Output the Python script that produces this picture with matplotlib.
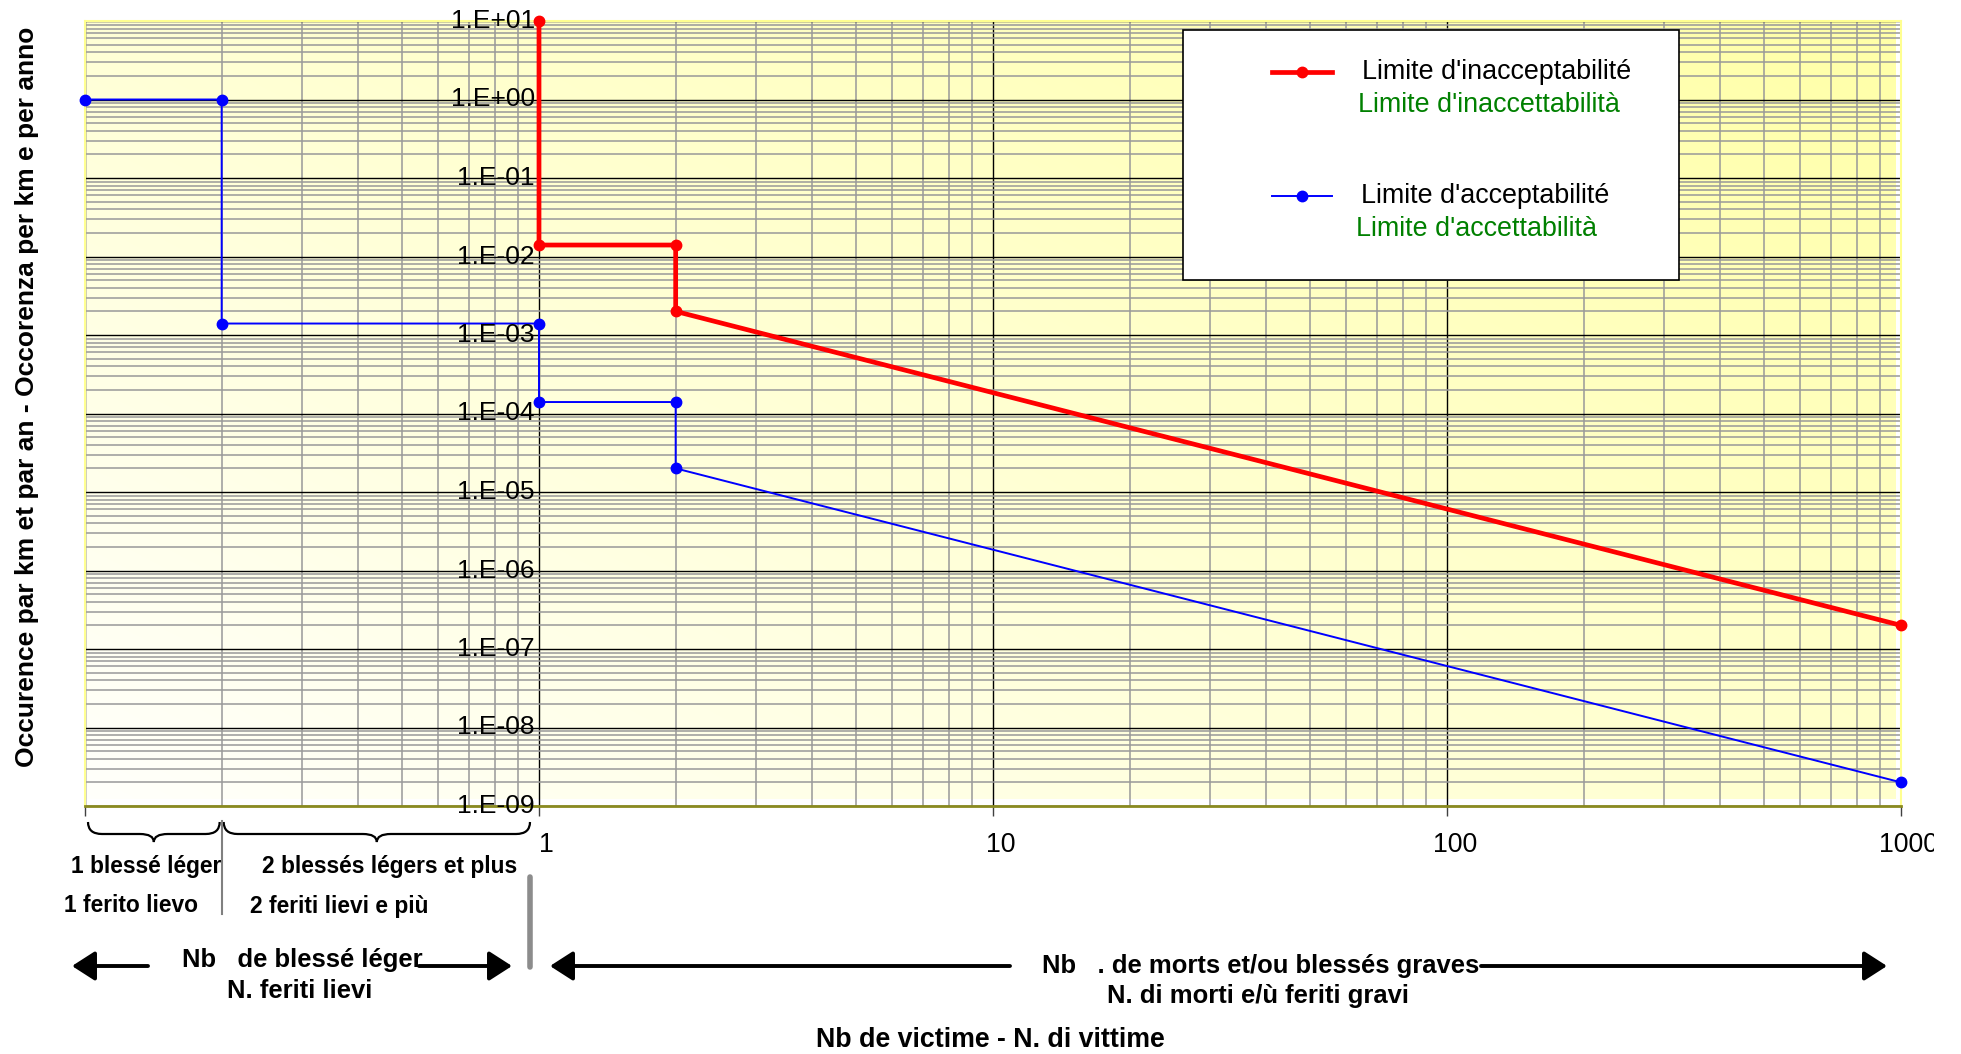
import numpy as np
import matplotlib
matplotlib.use("Agg")
import matplotlib.pyplot as plt
from matplotlib import font_manager
from matplotlib.patches import Rectangle, FancyArrowPatch, PathPatch
from matplotlib.path import Path
from matplotlib.lines import Line2D
from matplotlib.transforms import Affine2D
from matplotlib.ticker import LogLocator, NullFormatter

# data
inacc_x = [1, 1, 2, 2, 1000]
inacc_y = [10, 1.4e-2, 1.4e-2, 2e-3, 2e-7]
acc_x = [0.1, 0.2, 0.2, 1, 1, 2, 2, 1000]
acc_y = [1, 1, 1.4e-3, 1.4e-3, 1.4e-4, 1.4e-4, 2e-5, 2e-9]
x_ticks = [1, 10, 100, 1000]
x_tick_labels = ["1", "10", "100", "1000"]
y_ticks = [1e1, 1e0, 1e-1, 1e-2, 1e-3, 1e-4, 1e-5, 1e-6, 1e-7, 1e-8, 1e-9]
y_tick_labels = ["1.E+01", "1.E+00", "1.E-01", "1.E-02", "1.E-03", "1.E-04",
                 "1.E-05", "1.E-06", "1.E-07", "1.E-08", "1.E-09"]

# fonts
avail = {f.name for f in font_manager.fontManager.ttflist}
REG = "Liberation Sans"
if "Liberation Sans Narrow" in avail:
    NARROW, k = "Liberation Sans Narrow", 1.0
else:
    NARROW, k = "Liberation Sans", 0.82
plt.rcParams["font.family"] = [REG, "DejaVu Sans"]

W, H = 1961, 1054
fig = plt.figure(figsize=(W / 100, H / 100), dpi=100)
# reference-pixel transform (origin top-left)
T = Affine2D().scale(1 / W, -1 / H).translate(0, 1) + fig.transFigure

L, R, TOP, BOT = 85, 1901, 21, 806
# gradient background in its own axes behind
bg = fig.add_axes([L / W, 1 - (BOT - 7) / H, (R - 5 - L) / W, (BOT - 7 - TOP) / H], zorder=0)
gx, gy = np.meshgrid(np.linspace(0, 1, 300), np.linspace(0, 1, 300))
t = np.clip(0.55 * gx + 0.45 * gy, 0, 1)
img = np.dstack([np.ones_like(t), np.ones_like(t), 0.985 - 0.33 * t])
bg.imshow(img, origin="lower", aspect="auto", extent=[0, 1, 0, 1], interpolation="bilinear")
bg.axis("off")

ax = fig.add_axes([L / W, 1 - BOT / H, (R - L) / W, (BOT - TOP) / H], zorder=1)
ax.patch.set_alpha(0)
ax.set_xscale("log")
ax.set_yscale("log")
ax.set_xlim(0.1, 1000)
ax.set_ylim(1e-9, 1e1)

ax.xaxis.set_major_locator(LogLocator(base=10, numticks=20))
ax.xaxis.set_minor_locator(LogLocator(base=10, subs=range(2, 10), numticks=20))
ax.yaxis.set_major_locator(LogLocator(base=10, numticks=20))
ax.yaxis.set_minor_locator(LogLocator(base=10, subs=range(2, 10), numticks=20))
ax.xaxis.set_minor_formatter(NullFormatter())
ax.yaxis.set_minor_formatter(NullFormatter())
ax.grid(which="minor", color="#999999", lw=1.1)
ax.grid(which="major", color="black", lw=1.0)
ax.set_axisbelow(True)
ax.tick_params(axis="x", which="major", direction="out", length=7, width=1,
               color="#404040", labelbottom=False)
ax.tick_params(axis="x", which="minor", length=0)
ax.tick_params(axis="y", which="both", length=0, labelleft=False)
ax.spines["bottom"].set_color("#8a8a20")
ax.spines["bottom"].set_linewidth(2)
for s in ["left", "right", "top"]:
    ax.spines[s].set_color("#ffff90")
    ax.spines[s].set_linewidth(1.5)

ax.plot(acc_x, acc_y, color="#0000ff", lw=1.4, marker="o", ms=7.5, zorder=4, clip_on=False)
ax.plot(inacc_x, inacc_y, color="#ff0000", lw=3.4, marker="o", ms=7.5, zorder=5, clip_on=False)

# tick labels
for x, lbl in zip(x_ticks, x_tick_labels):
    ax.annotate(lbl, xy=(x, 0), xycoords=("data", "axes fraction"), xytext=(5.5, -28),
                textcoords="offset points", ha="center", va="center",
                fontsize=23.5 * k, family=NARROW)
for y, lbl in zip(y_ticks, y_tick_labels):
    ax.annotate(lbl, xy=(1, y), xycoords="data", xytext=(-3, 0), textcoords="offset points",
                ha="right", va="center", fontsize=19, zorder=6)
# the original chart area cuts the last label short
fig.add_artist(Rectangle((1934, 822), 30, 50, transform=T, facecolor="white",
                         edgecolor="none", zorder=10))

fig.text(27 / W, 1 - 397 / H, "Occurence par km et par an - Occorenza per km e per anno",
         rotation=90, ha="center", va="center", fontsize=19, fontweight="bold")

# legend box
ax.add_patch(Rectangle((1183, 30), 496, 250, transform=T, facecolor="white",
                       edgecolor="black", lw=1.2, zorder=7, clip_on=False))
for yy, col, lw in [(72, "#ff0000", 3.4), (196, "#0000ff", 1.4)]:
    ax.add_line(Line2D([1272, 1332], [yy, yy], transform=T, color=col, lw=lw, zorder=8, clip_on=False))
    ax.add_line(Line2D([1302], [yy], transform=T, color=col, marker="o", ms=7.5, zorder=8, clip_on=False))
leg_txt = [(1362, 72, "Limite d'inacceptabilité", "black"),
           (1358, 105, "Limite d'inaccettabilità", "#008000"),
           (1361, 196, "Limite d'acceptabilité", "black"),
           (1356, 229, "Limite d'accettabilità", "#008000")]
for xx, yy, s, c in leg_txt:
    ax.text(xx, yy, s, transform=T, color=c, fontsize=19.4, ha="left", va="center", zorder=8)


# annotations below the axis
def px(xd):
    return ax.transData.transform((xd, 1))[0]


def brace(x0, x1, ytop, ytip, r=14):
    xc = (x0 + x1) / 2
    ym = ytop + 0.6 * (ytip - ytop)
    verts = [(x0, ytop), (x0, ym), (x0 + r, ym), (xc - r, ym), (xc, ym), (xc, ytip),
             (xc, ym), (xc + r, ym), (x1 - r, ym), (x1, ym), (x1, ytop)]
    codes = [Path.MOVETO, Path.CURVE3, Path.CURVE3, Path.LINETO, Path.CURVE3, Path.CURVE3,
             Path.CURVE3, Path.CURVE3, Path.LINETO, Path.CURVE3, Path.CURVE3]
    fig.add_artist(PathPatch(Path(verts, codes), transform=T, fill=False, lw=1.6, color="black"))


x02 = px(0.2)
brace(px(0.1) + 3, x02 - 2, 822, 842)
brace(x02 + 2, 530, 822, 842)
fig.add_artist(Line2D([x02, x02], [821, 914], transform=T, color="#808080", lw=1.5))
fig.add_artist(Line2D([530, 530], [877, 967], transform=T, color="#8c8c8c", lw=4,
                      solid_capstyle="round"))

small = [(146, 866, "1 blessé léger"), (390, 866, "2 blessés légers et plus"),
         (131, 906, "1 ferito lievo"), (339, 906, "2 feriti lievi e più")]
for xx, yy, s in small:
    fig.text(xx / W, 1 - yy / H, s, ha="center", va="center", fontsize=20 * k,
             fontweight="bold", family=NARROW)

fig.text(302 / W, 1 - 960 / H, "Nb   de blessé léger", ha="center", va="center",
         fontsize=22.5 * k, fontweight="bold", family=NARROW)
fig.text(300 / W, 1 - 991 / H, "N. feriti lievi", ha="center", va="center",
         fontsize=22.5 * k, fontweight="bold", family=NARROW)
fig.text(1042 / W, 1 - 966 / H, "Nb   . de morts et/ou blessés graves", ha="left", va="center",
         fontsize=22.5 * k, fontweight="bold", family=NARROW)
fig.text(1258 / W, 1 - 996 / H, "N. di morti e/ù feriti gravi", ha="center", va="center",
         fontsize=22.5 * k, fontweight="bold", family=NARROW)
fig.text(990 / W, 1 - 1040 / H, "Nb de victime - N. di vittime", ha="center", va="center",
         fontsize=23.5 * k, fontweight="bold", family=NARROW)

for tail, head in [((148, 966), (72, 966)), ((419, 966), (512, 966)),
                   ((1010, 966), (550, 966)), ((1481, 966), (1887, 966))]:
    fig.add_artist(FancyArrowPatch(tail, head, transform=T,
                                   arrowstyle="-|>,head_length=0.7,head_width=0.45",
                                   mutation_scale=20, lw=2.8, color="black",
                                   shrinkA=0, shrinkB=0, zorder=3))

fig.savefig("out.png", dpi=100, facecolor="white")
